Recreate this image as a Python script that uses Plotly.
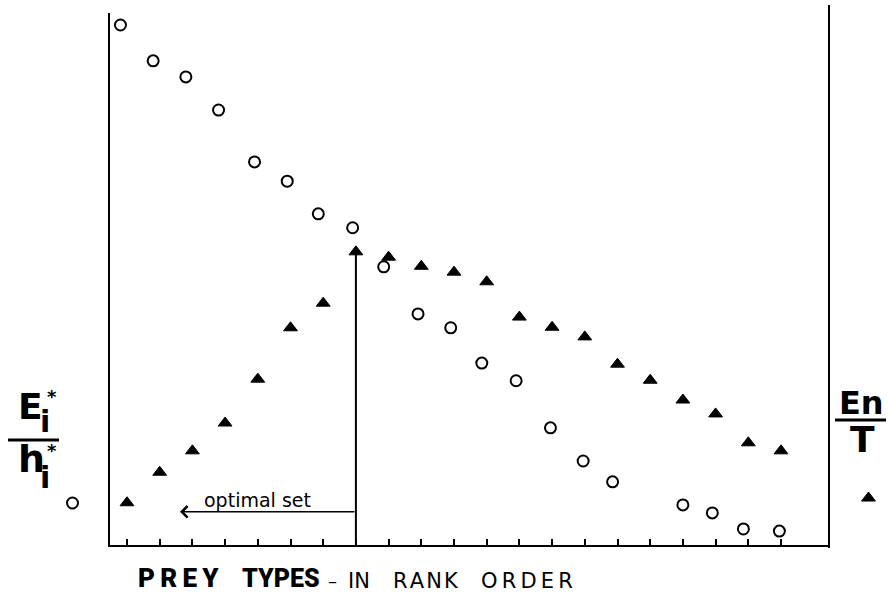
import plotly.graph_objects as go

# ---- data (arbitrary value units, 0 = x-axis) ----
tick_ranks = list(range(1, 22))
circle_rank = [0.8, 1.8, 2.8, 3.8, 4.9, 5.9, 6.85, 7.9, 8.85, 9.9, 10.9,
               11.85, 12.9, 13.95, 14.95, 15.85, 18.0, 18.9, 19.85, 20.95]
circle_value = [97.2, 90.5, 87.5, 81.3, 71.6, 68.0, 61.9, 59.3, 52.0, 43.2,
                40.6, 34.0, 30.7, 21.9, 15.7, 11.8, 7.5, 6.0, 3.0, 2.6]
triangle_rank = list(range(1, 22))
triangle_value = [7.9, 13.6, 17.6, 22.8, 31.0, 40.6, 45.2, 54.8, 53.8, 52.1,
                  51.0, 49.2, 42.6, 40.7, 38.9, 33.8, 30.8, 27.1, 24.5, 19.1, 17.6]
optimal_rank = 8          # last prey type in the optimal set
optimal_set_end = 2.62    # where the "optimal set" arrow points to
optimal_level = 6.2       # height of the "optimal set" arrow

# ---- layout geometry (pixels) ----
W, H = 888, 599
L, R, T, B = 110, 59, 13, 54
PW, PH = W - L - R, H - T - B


def px(X):
    return (X - L) / PW


def py(Y):
    return (H - B - Y) / PH


fig = go.Figure()

fig.add_trace(go.Scatter(
    x=circle_rank, y=circle_value, mode="markers", name=" ",
    legend="legend",
    marker=dict(symbol="circle-open", size=11, color="black",
                line=dict(width=2, color="black")),
    cliponaxis=False,
))
fig.add_trace(go.Scatter(
    x=triangle_rank, y=triangle_value, mode="markers", name=" ",
    legend="legend2",
    marker=dict(symbol="triangle-up", size=12, color="black",
                line=dict(width=1, color="black")),
    cliponaxis=False,
))

# vertical arrow shaft up to the last member of the optimal set
fig.add_shape(type="line", xref="x", yref="y",
              x0=optimal_rank, x1=optimal_rank,
              y0=0, y1=triangle_value[optimal_rank - 1],
              line=dict(color="black", width=2))
# right-hand vertical line
fig.add_shape(type="line", xref="paper", yref="paper",
              x0=1, x1=1, y0=py(548), y1=py(5),
              line=dict(color="black", width=2))
# fraction bars
fig.add_shape(type="line", xref="paper", yref="paper",
              x0=px(8), x1=px(59), y0=py(440), y1=py(440),
              line=dict(color="black", width=3))
fig.add_shape(type="line", xref="paper", yref="paper",
              x0=px(835), x1=px(886), y0=py(420), y1=py(420),
              line=dict(color="black", width=3))

ann = []
# "optimal set" arrow
ann.append(dict(x=optimal_set_end, y=optimal_level, xref="x", yref="y",
                ax=optimal_rank, ay=optimal_level, axref="x", ayref="y",
                text="", showarrow=True, arrowhead=4, arrowwidth=1.5,
                arrowsize=1.5, arrowcolor="black"))
ann.append(dict(x=(optimal_rank + optimal_set_end) / 2 - 0.33, y=optimal_level,
                xref="x", yref="y", text="optimal set", showarrow=False,
                xanchor="center", yanchor="bottom", yshift=-1,
                font=dict(family="DejaVu Sans", size=19, color="black")))

bold = dict(family="DejaVu Sans", color="black", weight="bold")


def label(text, X, Y, size, **kw):
    f = dict(bold)
    f["size"] = size
    f.update(kw.pop("font", {}))
    ann.append(dict(x=px(X), y=py(Y), xref="paper", yref="paper", text=text,
                    showarrow=False, xanchor="center", yanchor="middle",
                    font=f, **kw))


# left label  E_i* / h_i*
label("E", 30, 406, 36)
label("i", 45, 421, 30)
label("*", 52, 396, 18)
label("h", 31, 459, 38)
label("i", 45, 477, 30)
label("*", 52, 450, 18)
# right label  En / T
label("En", 861, 403, 32)
label("T", 863, 439, 36)

# x-axis title
cond = dict(family="Roboto, Liberation Sans, sans-serif", weight=900)
label("P\u2009R\u2009E\u2009Y", 178, 578, 26, font=cond)
label("TYPES", 281, 578, 25, font=cond)
light = dict(family="DejaVu Sans", weight="normal")
label("–", 332, 580, 18, font=light)
label("IN", 359, 581, 21, font=light)
label("R\u200aA\u200aN\u200aK", 426, 581, 21, font=light)
label("O\u2009R\u2009D\u2009E\u2009R", 527, 581, 21, font=light)

fig.update_layout(
    width=W, height=H,
    margin=dict(l=L, r=R, t=T, b=B, pad=0, autoexpand=False),
    paper_bgcolor="white", plot_bgcolor="white",
    annotations=ann,
    showlegend=True,
    legend=dict(x=77 / W, y=1 - 503 / H, xref="container", yref="container",
                xanchor="center", yanchor="middle",
                bgcolor="rgba(0,0,0,0)", borderwidth=0, itemwidth=30,
                font=dict(size=12)),
    legend2=dict(x=873 / W, y=1 - 498 / H, xref="container", yref="container",
                 xanchor="center", yanchor="middle",
                 bgcolor="rgba(0,0,0,0)", borderwidth=0, itemwidth=30,
                 font=dict(size=12)),
    xaxis=dict(range=[1 - 17 / 32.7, 1 + 702 / 32.7], showgrid=False,
               zeroline=False, showline=True, linecolor="black", linewidth=2,
               ticks="inside", tickvals=tick_ranks, ticklen=6, tickwidth=1.5,
               tickcolor="black", showticklabels=False, fixedrange=True),
    yaxis=dict(range=[0, 532 / 5.35], showgrid=False, zeroline=False,
               showline=True, linecolor="black", linewidth=2,
               showticklabels=False, ticks="", fixedrange=True),
)

fig.write_html(
    "out.html",
    config={"displayModeBar": False},
    post_script="document.body.style.margin='0';"
                "document.documentElement.style.overflow='hidden';",
)
